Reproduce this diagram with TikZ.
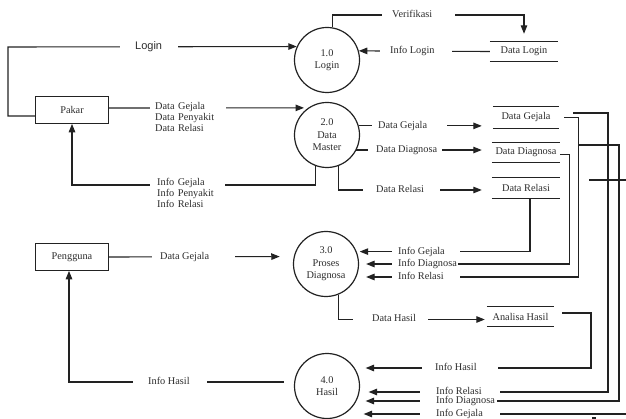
\documentclass[tikz,border=0pt]{standalone}
\usepackage{fontspec}
\setmainfont{Liberation Serif}
\setsansfont{Liberation Sans}
\usetikzlibrary{arrows.meta}
\definecolor{ink}{RGB}{34,34,34}
\definecolor{txt}{RGB}{45,45,45}
% label box of width #1, text indented by #2
\newcommand\padlbl[3]{\makebox[#1][l]{\hspace*{#2}#3}}
\begin{document}
\begin{tikzpicture}[x=1pt,y=-1pt,
  every node/.style={font=\fontsize{10.3}{11.5}\selectfont, text=txt},
  proc/.style={circle, draw=ink, line width=1.2pt, minimum size=65pt, inner sep=0pt,
    align=center, font=\fontsize{10.3}{12.5}\selectfont},
  entity/.style={draw=ink, line width=1.2pt, minimum width=73pt, minimum height=26.5pt, inner sep=0pt},
  store/.style={minimum height=19pt, inner sep=0pt},
  flow/.style={draw=ink, line width=1.1pt, -{Triangle[length=8.5pt,width=6.5pt]}},
  link/.style={draw=ink, line width=1.1pt},
  lbl/.style={fill=white, inner sep=0pt, inner ysep=0.5pt, text height=7pt, text depth=2pt, anchor=west},
  lblblock/.style={fill=white, inner ysep=1pt, anchor=west, align=left,
    font=\fontsize{10.3}{11}\selectfont},
]
\fill[white] (0,0) rectangle (626,419);
\useasboundingbox (0,0) rectangle (626,419);

% processes
\node[proc] (p1) at (327,60) {1.0\\Login};
\node[proc] (p2) at (327,135) {2.0\\Data\\Master};
\node[proc] (p3) at (326,264) {3.0\\Proses\\Diagnosa};
\node[proc] (p4) at (327,386) {4.0\\Hasil};

% external entities
\node[entity] (pakar) at (72,110) {Pakar};
\node[entity] (peng) at (72,257) {Pengguna};

% data stores
\node[store, minimum width=68pt] (dl) at (524,51.5) {Data Login};
\node[store, minimum width=66pt, minimum height=21pt] (dg) at (526,117.5) {Data Gejala};
\node[store, minimum width=68pt] (dd) at (526,152.5) {Data Diagnosa};
\node[store, minimum width=68pt, minimum height=20pt] (dr) at (526,188) {Data Relasi};
\node[store, minimum width=67pt] (ah) at (520.5,316.5) {Analisa Hasil};
\foreach \s in {dl,dg,dd,dr,ah}
  \draw[link] (\s.north west) -- (\s.north east) (\s.south west) -- (\s.south east);

% login
\draw[flow] ([yshift=-6pt]pakar.west) -- (8,116) -- (8,47) -- (p1.156);
\draw[flow, shorten >=8pt] (p1.80) |- (524,15) -- (dl.north);
\draw[flow] (dl.west) -- (p1.16);

% master data
\draw[flow, shorten >=4pt] ([yshift=2pt]pakar.east) -- (p2.125);
\draw[flow] (p2.250) |- (72,185) -- (pakar.south);
\draw[flow, shorten >=11pt] (p2.16) -- (p2.16 -| dg.west);
\draw[flow, shorten >=10pt] (p2.-27) -- (p2.-27 -| dd.west);
\draw[flow, shorten >=10pt] (p2.-69) |- ([yshift=-2pt]dr.west);

% stores to diagnosis
\draw[flow, shorten >=3pt] ([xshift=4pt]dr.south) |- (p3.22);
\draw[flow, shorten >=7pt] ([yshift=-2pt]dd.east) -- ++(9,0) |- (p3.east);
\draw[flow, shorten >=7pt] ([xshift=5pt]dg.east) -- ++(14,0) |- ([yshift=-13pt]p3.east);

% stores to result
\coordinate (jn) at (578,145);
\coordinate (rg) at (626,414);
\coordinate (cx) at (589,180);
\draw[flow, shorten >=8.5pt] ([xshift=14pt,yshift=4.5pt]dg.east) -- (608,113) |- ([yshift=-6pt]p4.east);
\draw[flow, shorten >=5.5pt] (jn) -- (619,145) |- ([yshift=-15pt]p4.east);
\draw[flow, shorten >=3.5pt] (rg) -- ([yshift=-28pt]p4.east);
\draw[link] (cx) -- (626,180);
\fill[ink] (592,416.5) rectangle (596,419);

% diagnosis and result
\draw[flow, shorten >=14pt] (peng.east) -- (p3.167);
\draw[flow, shorten >=2pt] (p3.-68) |- ([yshift=-3pt]ah.west);
\draw[flow, shorten >=5.5pt] ([xshift=8pt,yshift=3.5pt]ah.east) -- (591,313) |- ([yshift=18pt]p4.east);
\draw[flow, shorten <=10pt] ([yshift=4pt]p4.west) -- (69,382) -- ([xshift=-3pt]peng.south);

% flow labels
\node[lbl, font=\sffamily\fontsize{11}{12}\selectfont, text height=8pt] (lLogin) at (120,47) {\padlbl{58pt}{15pt}{Login}};
\node[lbl] (lVer) at (382,15) {\padlbl{73pt}{10pt}{Verifikasi}};
\node[lbl] (lInfoLogin) at (380,51) {\padlbl{72pt}{10pt}{Info Login}};
\node[lblblock, inner xsep=5pt, text width=66pt] (lMasterIn) at (150,117) {Data Gejala\\Data Penyakit\\Data Relasi};
\node[lblblock, inner xsep=7pt, text width=61pt] (lMasterOut) at (150,193) {Info Gejala\\Info Penyakit\\Info Relasi};
\node[lbl] (lDG) at (372,126) {\padlbl{75pt}{6pt}{Data Gejala}};
\node[lbl] (lDD) at (368,150) {\padlbl{74pt}{8pt}{Data Diagnosa}};
\node[lbl] (lDR) at (363,190) {\padlbl{77pt}{13pt}{Data Relasi}};
\node[lbl] (lIG3) at (392,252) {\padlbl{68pt}{6pt}{Info Gejala}};
\node[lbl] (lID3) at (392,264) {\padlbl{66pt}{6pt}{Info Diagnosa}};
\node[lbl] (lIR3) at (392,277) {\padlbl{68pt}{6pt}{Info Relasi}};
\node[lbl] (lDH) at (353,319.5) {\padlbl{75pt}{19pt}{Data Hasil}};
\node[lbl] (lIH4) at (422,368) {\padlbl{76pt}{13pt}{Info Hasil}};
\node[lbl] (lIR4) at (420,392) {\padlbl{80pt}{16pt}{Info Relasi}};
\node[lbl] (lID4) at (420,401) {\padlbl{77pt}{16pt}{Info Diagnosa}};
\node[lbl] (lIG4) at (420,414) {\padlbl{80pt}{16pt}{Info Gejala}};
\node[lbl] (lPG) at (152,257) {\padlbl{83pt}{8pt}{Data Gejala}};
\node[lbl] (lPH) at (133,382) {\padlbl{74pt}{15pt}{Info Hasil}};
\end{tikzpicture}
\end{document}
